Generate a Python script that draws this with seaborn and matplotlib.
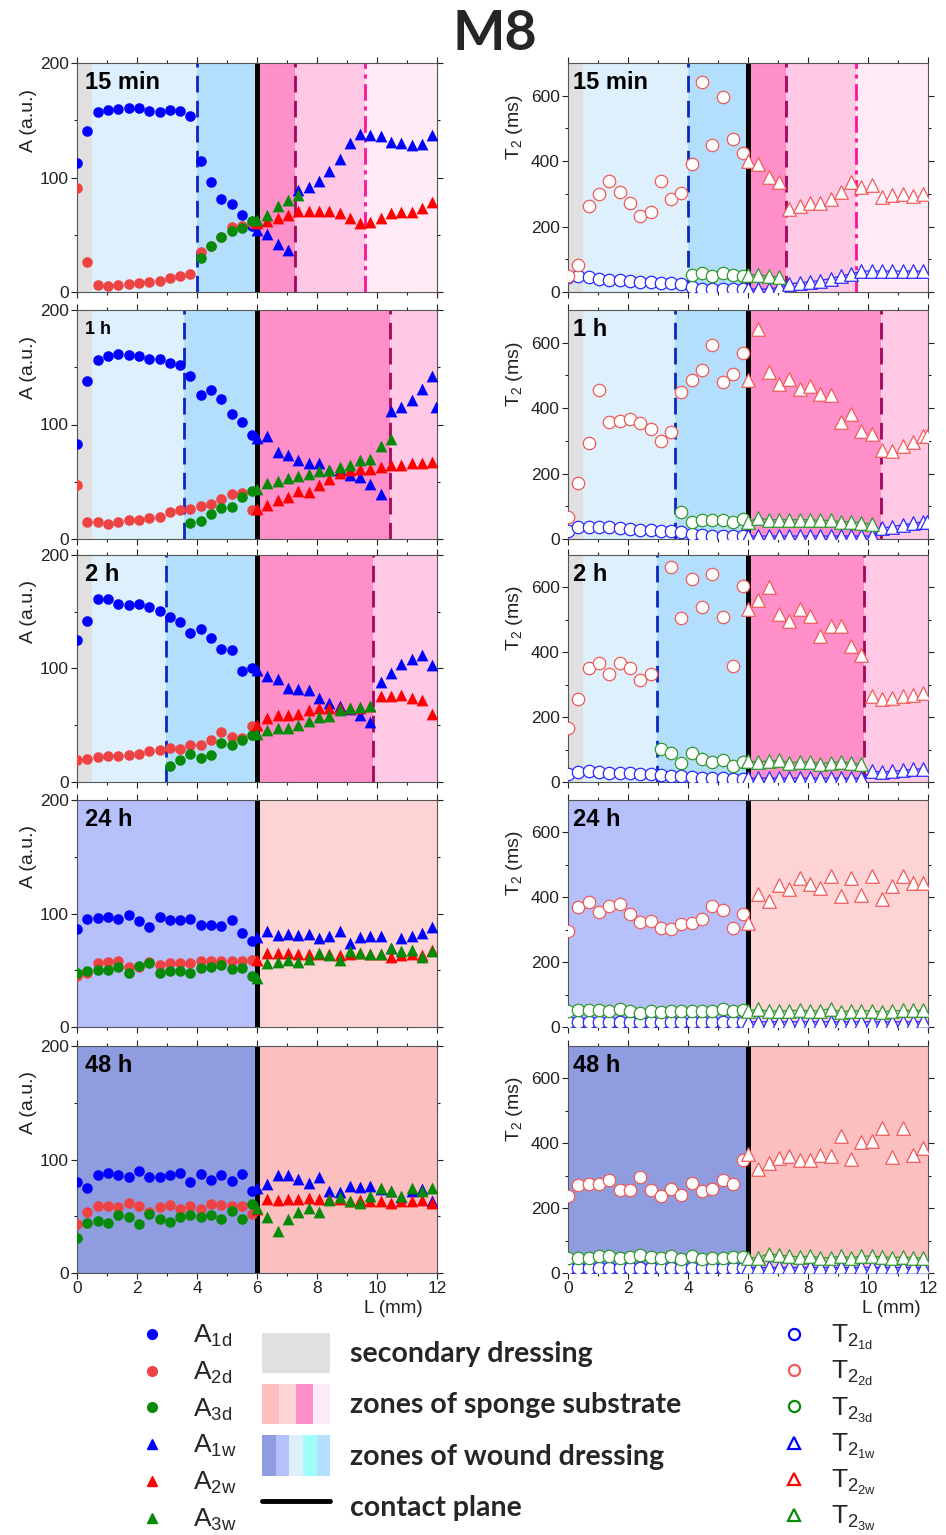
import numpy as np
import matplotlib
matplotlib.use("Agg")
import matplotlib.pyplot as plt
import seaborn as sns
from matplotlib.lines import Line2D
from matplotlib.patches import Patch
from matplotlib.legend_handler import HandlerTuple

nan = np.nan

# ---------------- data ----------------
X_D = [0.00, 0.34, 0.69, 1.03, 1.38, 1.72, 2.06, 2.41, 2.75, 3.09, 3.44, 3.78,
       4.13, 4.47, 4.81, 5.16, 5.50, 5.84]
X_W = [6.00, 6.34, 6.69, 7.03, 7.38, 7.72, 8.06, 8.41, 8.75, 9.09, 9.44, 9.78,
       10.13, 10.47, 10.81, 11.16, 11.50, 11.84, 11.98]
TIMES = ["15 min", "1 h", "2 h", "24 h", "48 h"]

# amplitudes A (a.u.)
A1d_15 = [113, 141, 157, 159, 160, 161, 161, 158, 157, 159, 158, 154, 114, 96, 81, 77, 67, 58]
A2d_15 = [91, 26, 6, 5, 6, 7, 8, 9, 10, 12, 14, 16, 35, 40, 48, 57, 58, 60]
A3d_15 = [nan, nan, nan, nan, nan, nan, nan, nan, nan, nan, nan, nan, 30, 40, 48, 53, 56, 62]
A1w_15 = [54, 51, 42, 37, 89, 92, 97, 106, 116, 130, 138, 137, 136, 131, 130, 128, 129, 137, nan]
A2w_15 = [60, 62, 65, 67, 71, 71, 71, 71, 69, 65, 60, 61, 65, 69, 70, 70, 73, 79, nan]
A3w_15 = [63, 67, 75, 80, 85, nan, nan, nan, nan, nan, nan, nan, nan, nan, nan, nan, nan, nan, nan]

A1d_1h = [83, 138, 156, 160, 162, 161, 160, 157, 157, 154, 152, 142, 126, 130, 122, 109, 102, 91]
A2d_1h = [47, 15, 15, 13, 15, 17, 17, 18, 19, 24, 25, 26, 29, 31, 35, 39, 40, 25]
A3d_1h = [nan, nan, nan, nan, nan, nan, nan, nan, nan, nan, nan, 14, 16, 22, 27, 28, 37, 42]
A1w_1h = [88, 90, 76, 73, 69, 66, 66, 60, 60, 56, 54, 48, 39, 112, 115, 121, 131, 142, 115]
A2w_1h = [26, 30, 34, 37, 42, 41, 47, 52, 58, 60, 61, 61, 63, 65, 65, 66, 66, 67, nan]
A3w_1h = [44, 49, 51, 53, 55, 57, 59, 60, 63, 65, 69, 70, 81, 87, nan, nan, nan, nan, nan]

A1d_2h = [125, 142, 161, 161, 157, 156, 157, 154, 151, 145, 141, 131, 135, 127, 117, 116, 98, 100]
A2d_2h = [19, 20, 22, 23, 23, 24, 25, 27, 28, 30, 29, 33, 33, 37, 44, 40, 39, 49]
A3d_2h = [nan, nan, nan, nan, nan, nan, nan, nan, nan, 14, 19, 25, 21, 24, 34, 33, 37, 41]
A1w_2h = [99, 93, 91, 83, 82, 81, 74, 70, 67, 64, 59, 53, 88, 96, 104, 108, 112, 103, nan]
A2w_2h = [50, 56, 59, 59, 60, 63, 65, 65, 65, 65, 65, 67, 76, 76, 77, 74, 72, 60, nan]
A3w_2h = [42, 46, 48, 48, 50, 54, 57, 58, 63, 65, 66, 67, nan, nan, nan, nan, nan, nan, nan]

A1d_24h = [86, 95, 96, 97, 95, 99, 93, 88, 97, 94, 94, 95, 90, 90, 89, 94, 83, 76]
A2d_24h = [45, 48, 56, 57, 58, 53, 53, 57, 55, 56, 56, 56, 58, 58, 58, 58, 58, 59]
A3d_24h = [48, 49, 50, 50, 53, 48, 54, 56, 48, 49, 49, 48, 52, 53, 55, 51, 52, 45]
A1w_24h = [79, 85, 81, 82, 81, 82, 78, 80, 85, 74, 79, 80, 80, 70, 78, 80, 83, 88, nan]
A2w_24h = [59, 65, 65, 65, 64, 64, 64, 64, 63, 64, 65, 64, 64, 62, 63, 64, 63, 68, nan]
A3w_24h = [43, 56, 57, 59, 57, 60, 65, 63, 59, 67, 65, 64, 64, 70, 67, 68, 62, 67, nan]

A1d_48h = [80, 75, 86, 88, 86, 85, 90, 85, 85, 86, 88, 80, 87, 82, 86, 81, 87, 72]
A2d_48h = [43, 54, 59, 59, 58, 62, 59, 54, 58, 60, 56, 59, 56, 61, 60, 59, 59, 52]
A3d_48h = [31, 44, 46, 44, 51, 49, 43, 52, 48, 45, 49, 51, 49, 51, 48, 55, 48, 61]
A1w_48h = [75, 78, 86, 86, 83, 79, 85, 72, 71, 77, 76, 77, 74, 72, 67, 72, 74, 63, nan]
A2w_48h = [56, 65, 64, 65, 65, 66, 65, 65, 65, 63, 64, 63, 63, 62, 63, 63, 64, 62, nan]
A3w_48h = [57, 49, 37, 48, 54, 57, 54, 64, 67, 63, 62, 68, 75, 72, 68, 75, 72, 75, nan]

# relaxation times T2 (ms)
T1d_15 = [45, 48, 45, 41, 38, 36, 33, 32, 30, 29, 27, 25, 15, 10, 8, 8, 8, 10]
T2d_15 = [50, 84, 264, 300, 339, 306, 271, 231, 246, 340, 284, 304, 392, 641, 450, 595, 468, 426]
T3d_15 = [nan, nan, nan, nan, nan, nan, nan, nan, nan, nan, nan, nan, 51, 59, 50, 57, 52, 50]
T1w_15 = [9, 9, 9, 14, 25, 28, 31, 35, 41, 49, 55, 64, 64, 64, 64, 64, 64, 64, nan]
T2w_15 = [400, 390, 351, 337, 253, 264, 272, 272, 284, 306, 337, 321, 327, 290, 296, 299, 292, 299, nan]
T3w_15 = [53, 53, 48, 46, nan, nan, nan, nan, nan, nan, nan, nan, nan, nan, nan, nan, nan, nan, nan]

T1d_1h = [23, 36, 38, 38, 36, 33, 31, 29, 27, 25, 23, 21, 15, 12, 10, 8, 8, 8]
T2d_1h = [66, 172, 292, 454, 359, 360, 366, 356, 336, 300, 328, 449, 487, 516, 592, 480, 503, 569]
T3d_1h = [nan, nan, nan, nan, nan, nan, nan, nan, nan, nan, nan, 82, 53, 57, 59, 57, 53, 62]
T1w_1h = [9, 9, 9, 9, 9, 9, 9, 9, 9, 9, 9, 9, 9, 33, 38, 43, 48, 53, 53]
T2w_1h = [487, 641, 511, 475, 488, 457, 468, 444, 439, 357, 382, 329, 321, 272, 269, 284, 295, 315, 315]
T3w_1h = [53, 64, 59, 59, 59, 59, 59, 57, 57, 53, 53, 50, 45, nan, nan, nan, nan, nan, nan]

T1d_2h = [26, 31, 33, 31, 29, 29, 28, 26, 24, 23, 19, 17, 15, 13, 12, 12, 10, 10]
T2d_2h = [166, 257, 352, 368, 332, 368, 352, 313, 334, nan, 663, 505, 626, 539, 642, 510, 358, 605]
T3d_2h = [nan, nan, nan, nan, nan, nan, nan, nan, nan, 102, 88, 59, 90, 70, 62, 67, 50, 62]
T1w_2h = [12, 12, 12, 12, 12, 12, 12, 12, 12, 12, 12, 12, 33, 31, 33, 36, 39, 41, nan]
T2w_2h = [534, 560, 601, 518, 495, 532, 513, 451, 482, 482, 418, 392, 264, 257, 259, 264, 269, 275, nan]
T3w_2h = [64, 62, 65, 67, 60, 62, 62, 57, 60, 62, 59, 54, nan, nan, nan, nan, nan, nan, nan]

T1d_24h = [14, 14, 14, 14, 14, 15, 14, 14, 14, 14, 14, 14, 14, 14, 14, 14, 14, 14]
T2d_24h = [296, 369, 384, 356, 374, 379, 348, 325, 327, 304, 301, 317, 322, 334, 374, 361, 306, 348]
T3d_24h = [48, 52, 51, 51, 50, 56, 50, 43, 50, 47, 48, 50, 48, 49, 50, 57, 49, 52]
T1w_24h = [16, 16, 16, 16, 16, 16, 16, 16, 16, 16, 16, 16, 16, 16, 16, 16, 16, 17, nan]
T2w_24h = [322, 410, 388, 437, 426, 459, 442, 428, 467, 405, 459, 408, 467, 396, 436, 467, 445, 445, nan]
T3w_24h = [50, 55, 48, 50, 50, 52, 50, 50, 57, 47, 50, 50, 50, 47, 50, 51, 51, 51, nan]

T1d_48h = [14, 14, 14, 14, 14, 15, 14, 14, 14, 14, 14, 14, 14, 14, 14, 14, 15, 14]
T2d_48h = [236, 270, 275, 275, 288, 257, 255, 296, 255, 236, 258, 242, 278, 253, 260, 288, 275, 348]
T3d_48h = [45, 47, 47, 51, 51, 45, 49, 54, 49, 47, 51, 44, 52, 44, 47, 47, 50, 50]
T1w_48h = [18, 18, 18, 18, 18, 18, 18, 18, 18, 18, 18, 18, 18, 18, 18, 18, 18, 18, nan]
T2w_48h = [367, 322, 338, 356, 360, 350, 350, 364, 360, 421, 353, 405, 408, 447, 358, 447, 364, 387, nan]
T3w_48h = [47, 47, 60, 55, 52, 50, 52, 47, 47, 52, 47, 52, 52, 50, 47, 50, 47, 47, nan]

# zone boundaries (mm) per time point
ZONES = {
    "15 min": [(0, 0.5, "sec"), (0.5, 4.0, "w_lb"), (4.0, 6.0, "w_mb"),
               (6.0, 7.25, "s_ps"), (7.25, 9.6, "s_pl"), (9.6, 12, "s_pll")],
    "1 h": [(0, 0.5, "sec"), (0.5, 3.55, "w_lb"), (3.55, 6.0, "w_mb"),
            (6.0, 10.42, "s_ps"), (10.42, 12, "s_pl")],
    "2 h": [(0, 0.5, "sec"), (0.5, 2.97, "w_lb"), (2.97, 6.0, "w_mb"),
            (6.0, 9.88, "s_ps"), (9.88, 12, "s_pl")],
    "24 h": [(0, 6.0, "w_24"), (6.0, 12, "s_24")],
    "48 h": [(0, 6.0, "w_48"), (6.0, 12, "s_48")],
}
BOUNDS = {
    "15 min": [(4.0, "bd"), (7.25, "pd"), (9.6, "mdd")],
    "1 h": [(3.55, "bd"), (10.42, "pd")],
    "2 h": [(2.97, "bd"), (9.88, "pd")],
    "24 h": [],
    "48 h": [],
}
CONTACT = 6.0

A_SETS = {
    "15 min": [A1d_15, A2d_15, A3d_15, A1w_15, A2w_15, A3w_15],
    "1 h": [A1d_1h, A2d_1h, A3d_1h, A1w_1h, A2w_1h, A3w_1h],
    "2 h": [A1d_2h, A2d_2h, A3d_2h, A1w_2h, A2w_2h, A3w_2h],
    "24 h": [A1d_24h, A2d_24h, A3d_24h, A1w_24h, A2w_24h, A3w_24h],
    "48 h": [A1d_48h, A2d_48h, A3d_48h, A1w_48h, A2w_48h, A3w_48h],
}
T_SETS = {
    "15 min": [T1d_15, T2d_15, T3d_15, T1w_15, T2w_15, T3w_15],
    "1 h": [T1d_1h, T2d_1h, T3d_1h, T1w_1h, T2w_1h, T3w_1h],
    "2 h": [T1d_2h, T2d_2h, T3d_2h, T1w_2h, T2w_2h, T3w_2h],
    "24 h": [T1d_24h, T2d_24h, T3d_24h, T1w_24h, T2w_24h, T3w_24h],
    "48 h": [T1d_48h, T2d_48h, T3d_48h, T1w_48h, T2w_48h, T3w_48h],
}

# ---------------- styles ----------------
ZCOL = {"sec": "#e0e0e0", "w_lb": "#ddf0fc", "w_mb": "#b3dffc", "w_cy": "#a0fff8",
        "w_24": "#b6c0fb", "w_48": "#8f9ce0",
        "s_ps": "#ff8fc8", "s_pl": "#ffc8e4", "s_pll": "#ffebf5",
        "s_24": "#fdd3d3", "s_48": "#fbbfbf"}
LSTY = {"bd": ("#0a28c0", (0, (6, 3))), "pd": ("#a0085c", (0, (6, 3))),
        "mdd": ("#ff1493", (0, (6, 2, 1.5, 2)))}
BLUE, RED_D, RED_W, GREEN = "#0000ff", "#ef4343", "#ff0000", "#078a07"
OPEN_BLUE, OPEN_RED, OPEN_GREEN = "#2a2aff", "#f25a5a", "#2e9a2e"

sns.set_theme(style="ticks")
plt.rcParams["font.family"] = ["Liberation Sans", "DejaVu Sans"]
plt.rcParams["mathtext.default"] = "regular"

fig = plt.figure(figsize=(9.46, 15.35), dpi=100)
W, H = 946.0, 1535.0
rows_px = [(63, 292), (310, 539), (555, 782), (800, 1027), (1046, 1273)]
cols_px = [(77, 437), (568, 928)]


def style_axes(ax, ymax, ymajor, yminor, show_xlabels):
    ax.set_xlim(0, 12)
    ax.set_ylim(0, ymax)
    ax.set_xticks([0, 2, 4, 6, 8, 10, 12])
    ax.set_xticks([1, 3, 5, 7, 9, 11], minor=True)
    ax.set_yticks(ymajor)
    ax.set_yticks(yminor, minor=True)
    ax.tick_params(axis="both", which="both", direction="out", labelsize=12.5,
                   colors="#222222", length=4, width=0.8, pad=2)
    ax.tick_params(which="minor", length=2.5)
    ax.tick_params(top=True, right=True, which="both")
    for sp in ax.spines.values():
        sp.set_color("#555555")
        sp.set_linewidth(0.8)
        sp.set_visible(True)
    if not show_xlabels:
        ax.set_xticklabels([])


def draw_background(ax, t):
    for (a, b, key) in ZONES[t]:
        ax.axvspan(a, b, color=ZCOL[key], lw=0, zorder=0)
    for (xv, key) in BOUNDS[t]:
        c, ls = LSTY[key]
        ax.axvline(xv, color=c, ls=ls, lw=2.0, zorder=1.5)
    ax.axvline(CONTACT, color="black", lw=3.6, zorder=1.8)


for r, t in enumerate(TIMES):
    y0, y1 = rows_px[r]
    bottom = 1 - y1 / H
    height = (y1 - y0) / H
    last = r == len(TIMES) - 1
    # ---- amplitude panel ----
    ax = fig.add_axes([cols_px[0][0] / W, bottom, (cols_px[0][1] - cols_px[0][0]) / W, height])
    draw_background(ax, t)
    a1d, a2d, a3d, a1w, a2w, a3w = A_SETS[t]
    for ys, col in [(a1d, BLUE), (a2d, RED_D), (a3d, GREEN)]:
        sns.scatterplot(x=X_D, y=ys, ax=ax, marker="o", s=58, color=col,
                        edgecolor=col, linewidth=0, zorder=3, legend=False)
    for ys, col in [(a1w, BLUE), (a2w, RED_W), (a3w, GREEN)]:
        sns.scatterplot(x=X_W, y=ys, ax=ax, marker="^", s=72, color=col,
                        edgecolor=col, linewidth=0, zorder=3, legend=False)
    style_axes(ax, 200, [0, 100, 200], [50, 150], last)
    ax.set_ylabel("A (a.u.)", fontsize=14, color="#222222")
    ax.yaxis.set_label_coords(-0.112, 0.75)
    ax.text(0.022, 0.915, t, transform=ax.transAxes, fontsize=13 if t == "1 h" else 17,
            fontweight="bold", va="center", ha="left", color="black", zorder=5)
    if last:
        ax.set_xlabel("L (mm)", fontsize=13.5, color="#222222")
        ax.xaxis.set_label_coords(0.96, -0.12)
        ax.xaxis.label.set_ha("right")
    else:
        ax.set_xlabel("")

    # ---- T2 panel ----
    ax2 = fig.add_axes([cols_px[1][0] / W, bottom, (cols_px[1][1] - cols_px[1][0]) / W, height])
    draw_background(ax2, t)
    t1d, t2d, t3d, t1w, t2w, t3w = T_SETS[t]
    for ys, col in [(t1w, OPEN_BLUE), (t3w, OPEN_GREEN)]:
        sns.lineplot(x=X_W, y=ys, ax=ax2, color=col, lw=0.9, zorder=2.5, legend=False,
                     estimator=None, sort=False)
    for ys, col in [(t1d, OPEN_BLUE), (t2d, OPEN_RED), (t3d, OPEN_GREEN)]:
        sns.scatterplot(x=X_D, y=ys, ax=ax2, marker="o", s=80, color="white",
                        edgecolor=col, linewidth=0.9, zorder=3, legend=False)
    for ys, col in [(t1w, OPEN_BLUE), (t2w, OPEN_RED), (t3w, OPEN_GREEN)]:
        sns.scatterplot(x=X_W, y=ys, ax=ax2, marker="^", s=95, color="white",
                        edgecolor=col, linewidth=0.9, zorder=3, legend=False)
    style_axes(ax2, 700, [0, 200, 400, 600], [100, 300, 500], last)
    ax2.set_ylabel("T$_2$ (ms)", fontsize=14, color="#222222")
    ax2.yaxis.set_label_coords(-0.12, 0.72)
    ax2.text(0.014, 0.915, t, transform=ax2.transAxes, fontsize=17,
             fontweight="bold", va="center", ha="left", color="black", zorder=5)
    if last:
        ax2.set_xlabel("L (mm)", fontsize=13.5, color="#222222")
        ax2.xaxis.set_label_coords(0.98, -0.12)
        ax2.xaxis.label.set_ha("right")
    else:
        ax2.set_xlabel("")

# ---------------- title ----------------
fig.text(0.523, 0.978, "M8", ha="center", va="center", fontsize=40,
         fontweight="bold", family=["Lato", "DejaVu Sans"])

# ---------------- legends ----------------
A_LABELS = ["A$_{1d}$", "A$_{2d}$", "A$_{3d}$", "A$_{1w}$", "A$_{2w}$", "A$_{3w}$"]
A_HANDLES = [
    Line2D([], [], ls="", marker="o", ms=7, color=BLUE, mec=BLUE),
    Line2D([], [], ls="", marker="o", ms=7, color=RED_D, mec=RED_D),
    Line2D([], [], ls="", marker="o", ms=7, color=GREEN, mec=GREEN),
    Line2D([], [], ls="", marker="^", ms=7.5, color=BLUE, mec=BLUE),
    Line2D([], [], ls="", marker="^", ms=7.5, color=RED_W, mec=RED_W),
    Line2D([], [], ls="", marker="^", ms=7.5, color=GREEN, mec=GREEN),
]
leg1 = fig.legend(A_HANDLES, A_LABELS, loc="upper left",
                  bbox_to_anchor=(140 / W, 1 - 1323 / H), frameon=False,
                  fontsize=19, handlelength=0.9, handletextpad=1.1,
                  labelspacing=0.40, borderpad=0, borderaxespad=0)

T_LABELS = ["T$_{2_{1d}}$", "T$_{2_{2d}}$", "T$_{2_{3d}}$",
            "T$_{2_{1w}}$", "T$_{2_{2w}}$", "T$_{2_{3w}}$"]
T_HANDLES = [
    Line2D([], [], ls="", marker="o", ms=8, mfc="white", mec=BLUE, mew=1.6),
    Line2D([], [], ls="", marker="o", ms=8, mfc="white", mec=OPEN_RED, mew=1.6),
    Line2D([], [], ls="", marker="o", ms=8, mfc="white", mec=GREEN, mew=1.6),
    Line2D([], [], ls="", marker="^", ms=8.5, mfc="white", mec=BLUE, mew=1.6),
    Line2D([], [], ls="", marker="^", ms=8.5, mfc="white", mec=RED_W, mew=1.6),
    Line2D([], [], ls="", marker="^", ms=8.5, mfc="white", mec=GREEN, mew=1.6),
]
leg2 = fig.legend(T_HANDLES, T_LABELS, loc="upper left",
                  bbox_to_anchor=(782 / W, 1 - 1323 / H), frameon=False,
                  fontsize=19, handlelength=0.9, handletextpad=0.95,
                  labelspacing=0.27, borderpad=0, borderaxespad=0)

Z_HANDLES = [
    Patch(facecolor=ZCOL["sec"], edgecolor="none"),
    tuple(Patch(facecolor=ZCOL[k], edgecolor="none") for k in ["s_48", "s_24", "s_ps", "s_pll"]),
    tuple(Patch(facecolor=ZCOL[k], edgecolor="none") for k in ["w_48", "w_24", "w_lb", "w_cy", "w_mb"]),
    Line2D([], [], color="black", lw=3.5),
]
Z_LABELS = ["secondary dressing", "zones of sponge substrate",
            "zones of wound dressing", "contact plane"]
leg3 = fig.legend(Z_HANDLES, Z_LABELS, loc="upper left",
                  bbox_to_anchor=(262 / W, 1 - 1333 / H), frameon=False,
                  handler_map={tuple: HandlerTuple(ndivide=None, pad=0)},
                  prop={"family": ["Lato", "DejaVu Sans"], "weight": "bold", "size": 20.5},
                  handlelength=2.4, handleheight=1.8, handletextpad=0.69,
                  labelspacing=0.38, borderpad=0, borderaxespad=0)

fig.savefig("out.png", dpi=100)
